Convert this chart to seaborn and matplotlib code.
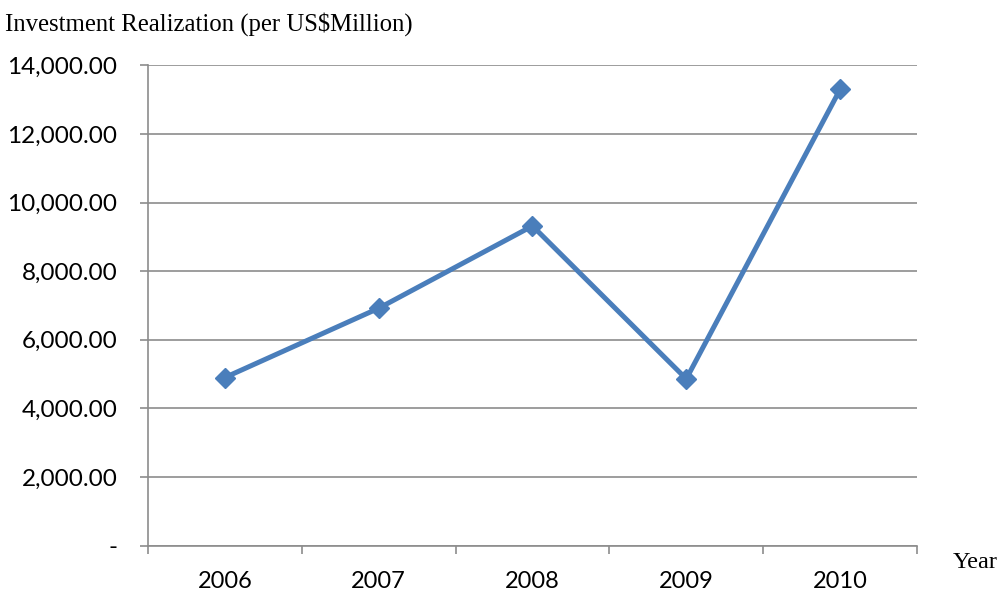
import matplotlib
matplotlib.use("Agg")
import matplotlib.pyplot as plt
import seaborn as sns
import pandas as pd
from matplotlib.ticker import FixedLocator, FuncFormatter

# Investment realization by year (US$ million)
years = ["2006", "2007", "2008", "2009", "2010"]
investment = [4900, 6920, 9320, 4860, 13300]
y_ticks = [0, 2000, 4000, 6000, 8000, 10000, 12000, 14000]

df = pd.DataFrame({"Year": years, "Investment": investment})

sns.set_theme(style="white")
plt.rcParams["font.family"] = ["Lato", "DejaVu Sans"]

fig = plt.figure(figsize=(10.06, 5.92), dpi=100)
ax = fig.add_axes([0.1471, 0.0785, 0.7644, 0.8109])

line_color = "#4A7EBB"
sns.lineplot(data=df, x="Year", y="Investment", ax=ax, color=line_color,
             linewidth=3.6, marker="D", markersize=10, markeredgecolor=line_color,
             markeredgewidth=1, sort=False)

ax.set_xlim(-0.5, len(years) - 0.5)
ax.set_ylim(y_ticks[0], y_ticks[-1])

ax.yaxis.set_major_locator(FixedLocator(y_ticks))
ax.yaxis.set_major_formatter(FuncFormatter(lambda v, p: "-" if v == 0 else f"{v:,.2f}"))
ax.grid(axis="y", color="#8C8C8C", linewidth=1.2)
ax.set_axisbelow(True)

# category boundaries carry the x tick marks; labels sit at category centres
ax.set_xticks(range(len(years)))
ax.set_xticklabels(years)
ax.set_xticks([i - 0.5 for i in range(len(years) + 1)], minor=True)
ax.tick_params(axis="x", which="major", length=0, pad=18, labelsize=17, colors="black")
ax.tick_params(axis="x", which="minor", length=6, width=1.2, color="#8C8C8C", direction="out", bottom=True)
ax.tick_params(axis="y", which="major", length=6, width=1.2, color="#8C8C8C", direction="out",
               left=True, pad=16, labelsize=17.5, labelcolor="black")

for side in ["top", "right"]:
    ax.spines[side].set_visible(False)
for side in ["left", "bottom"]:
    ax.spines[side].set_color("#8C8C8C")
    ax.spines[side].set_linewidth(1.2)

ax.set_xlabel("")
ax.set_ylabel("")

serif = ["Liberation Serif", "DejaVu Serif"]
fig.text(0.005, 0.960, "Investment Realization (per US$Million)", family=serif,
         fontsize=17.8, ha="left", va="center", color="black")
fig.text(0.947, 0.050, "Year", family=serif, fontsize=17.5, ha="left", va="center", color="black")

fig.savefig("out.png", dpi=100)
